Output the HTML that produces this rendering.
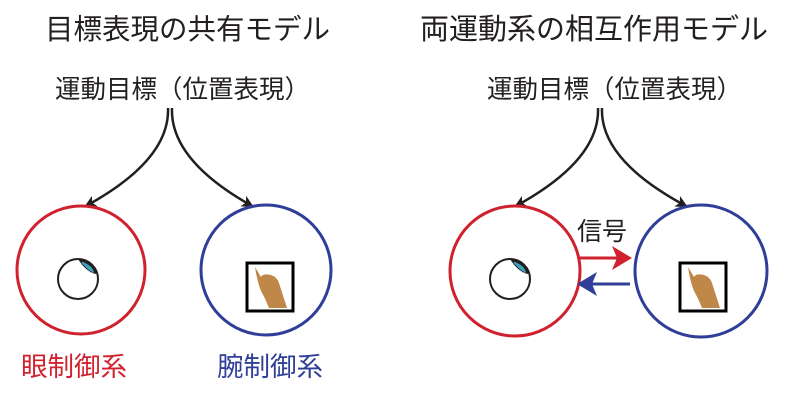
<!DOCTYPE html>
<html><head><meta charset="utf-8"><style>
body{margin:0;background:#fff;width:800px;height:401px;overflow:hidden}
svg text{font-family:"Liberation Sans","Noto Sans CJK JP",sans-serif;fill:#231f20}
</style></head><body>
<svg width="800" height="401" viewBox="0 0 800 401">
<defs>
<marker id="ak" markerWidth="12" markerHeight="12" refX="10" refY="6" orient="auto" markerUnits="userSpaceOnUse" viewBox="0 0 12 12"><path d="M0,0 L12,6 L0,12 L3,6Z" fill="#231f20"/></marker>
<g id="eye"><circle cx="0" cy="0" r="20" fill="#fff" stroke="#231f20" stroke-width="2"/><path d="M0,-20 A20,20 0 0 1 19,-6 L17,-5 Q8,-8 2,-17Z" fill="#231f20"/><path d="M3,-17 Q9,-9 16,-6 Q15,-13 5,-17Z" fill="#3aa5b8"/></g>
<g id="hand"><rect x="0" y="0" width="46" height="48" fill="#fff" stroke="#000" stroke-width="3"/><path d="M8,4 L14,14 Q16,10 24,12 Q30,14 32,20 L40,45 L22,45 Q18,35 14,28 Q10,18 8,4Z" fill="#c08848"/></g>
</defs>
<text x="45" y="39" font-size="28.5">目標表現の共有モデル</text>
<text x="420" y="39" font-size="29">両運動系の相互作用モデル</text>
<text x="55" y="98" font-size="25.5">運動目標（位置表現）</text>
<text x="487" y="98" font-size="25.5">運動目標（位置表現）</text>
<g fill="none" stroke="#231f20" stroke-width="2.5">
<path d="M168,108 Q170,160 86,206" marker-end="url(#ak)"/>
<path d="M172,108 Q170,160 252,206" marker-end="url(#ak)"/>
<path d="M598,108 Q600,160 516,206" marker-end="url(#ak)"/>
<path d="M602,108 Q600,160 686,206" marker-end="url(#ak)"/>
</g>
<circle cx="81" cy="270" r="64" fill="none" stroke="#d0222e" stroke-width="3"/>
<circle cx="266" cy="270" r="65" fill="none" stroke="#2f3e98" stroke-width="3"/>
<circle cx="515" cy="271" r="65" fill="none" stroke="#d0222e" stroke-width="3"/>
<circle cx="701" cy="271" r="66" fill="none" stroke="#2f3e98" stroke-width="3"/>
<use href="#eye" x="78" y="279"/>
<use href="#eye" x="510" y="279"/>
<use href="#hand" x="247" y="263"/>
<use href="#hand" x="680" y="263"/>
<line x1="580" y1="258" x2="622" y2="258" stroke="#d0222e" stroke-width="3"/>
<path d="M632,258 L612,246 L617,258 L612,270Z" fill="#d0222e"/>
<line x1="630" y1="284" x2="588" y2="284" stroke="#2f3e98" stroke-width="3"/>
<path d="M577,284 L597,272 L592,284 L597,296Z" fill="#2f3e98"/>
<text x="577" y="240" font-size="25">信号</text>
<text x="21" y="376" font-size="26.5" style="fill:#d0222e">眼制御系</text>
<text x="217" y="376" font-size="26.5" style="fill:#2f3e98">腕制御系</text>
</svg>
</body></html>
